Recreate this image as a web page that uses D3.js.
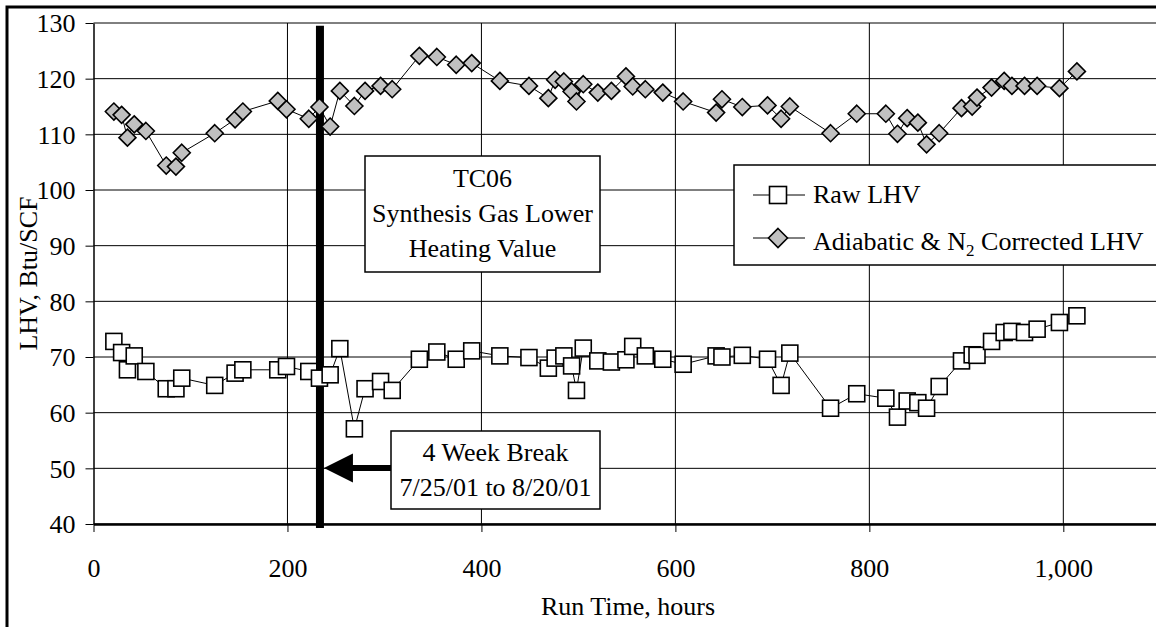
<!DOCTYPE html>
<html>
<head>
<meta charset="utf-8">
<script src="https://cdn.jsdelivr.net/npm/d3@7/dist/d3.min.js"></script>
<style>
  html, body { margin: 0; padding: 0; background: #fff; }
  svg { display: block; }
  text { font-family: "Liberation Serif", "Times New Roman", serif; fill: #000; }
</style>
</head>
<body>
<svg id="chart" width="1156" height="627"></svg>
<script>
// ---- data ----
const hours = [21,29,35,42,54,75,85,91,125,146,154,190,199,222,233,244,254,269,280,296,308,336,354,374,390,419,449,469,476,485,493,498,505,520,534,549,556,569,587,608,642,648,669,695,709,718,760,787,817,829,839,850,859,872,895,906,911,926,939,947,960,973,996,1014];
const rawLHV = [72.8,70.8,67.7,70.2,67.4,64.3,64.3,66.2,64.9,67.1,67.7,67.7,68.3,67.4,66.2,66.8,71.5,57.1,64.3,65.6,64.0,69.6,70.9,69.6,71.1,70.2,69.9,68.0,69.8,70.2,68.4,64.0,71.6,69.3,69.1,69.5,71.9,70.2,69.6,68.7,70.2,70.0,70.3,69.6,64.9,70.7,60.8,63.4,62.6,59.2,62.1,61.8,60.8,64.7,69.3,70.4,70.3,72.8,74.4,74.6,74.4,75.0,76.2,77.4];
const correctedLHV = [114.1,113.5,109.4,111.8,110.6,104.4,104.2,106.7,110.2,112.7,114.1,116.0,114.5,112.8,114.9,111.4,117.8,115.1,117.8,118.7,118.1,124.1,123.9,122.5,122.8,119.6,118.7,116.5,119.8,119.5,117.7,115.9,119.0,117.5,117.8,120.4,118.6,118.1,117.5,115.9,113.9,116.3,114.9,115.2,112.8,115.0,110.2,113.7,113.7,110.1,112.9,112.1,108.2,110.2,114.7,115.0,116.6,118.4,119.6,118.7,118.7,118.7,118.3,121.3];
const xTicks = [0,200,400,600,800,1000];
const yTicks = [40,50,60,70,80,90,100,110,120,130];
const seriesNames = ["Raw LHV", "Adiabatic & N", "2", " Corrected LHV"];
const titleLines = ["TC06", "Synthesis Gas Lower", "Heating Value"];
const breakLines = ["4 Week Break", "7/25/01 to 8/20/01"];
const breakHour = 233.5;
const xTitle = "Run Time, hours";
const yTitle = "LHV, Btu/SCF";

// ---- layout ----
const svg = d3.select("#chart");
const FONT = 26;
const x = d3.scaleLinear().domain([0, 1100]).range([93.5, 1160.3]);
const y = d3.scaleLinear().domain([40, 130]).range([524, 23]);
const x0 = x.range()[0], x1 = x.range()[1];
const yTop = y(130), yBot = y(40);

// outer frame
svg.append("rect").attr("x", 7).attr("y", 7).attr("width", 1170).attr("height", 640)
  .attr("fill", "#fff").attr("stroke", "#000").attr("stroke-width", 3);

// gridlines
const grid = svg.append("g");
grid.selectAll("line.h").data(yTicks).join("line")
  .attr("x1", x0).attr("x2", x1).attr("y1", d => y(d)).attr("y2", d => y(d))
  .attr("stroke", "#000").attr("stroke-width", 1);
grid.selectAll("line.v").data(xTicks.filter(d => d > 0)).join("line")
  .attr("x1", d => x(d)).attr("x2", d => x(d)).attr("y1", yTop).attr("y2", yBot)
  .attr("stroke", "#000").attr("stroke-width", 1);

// axes
const yAxis = svg.append("g").attr("transform", `translate(${x0},0)`)
  .call(d3.axisLeft(y).tickValues(yTicks).tickSize(8).tickSizeOuter(0).tickPadding(10));
yAxis.select(".domain").attr("stroke-width", 1.5);
yAxis.selectAll(".tick line").attr("stroke-width", 1);
yAxis.selectAll("text").attr("font-size", FONT).attr("font-family", "Liberation Serif").attr("dy", "0.34em");

const xAxis = svg.append("g").attr("transform", `translate(0,${yBot})`)
  .call(d3.axisBottom(x).tickValues(xTicks).tickSize(8).tickSizeOuter(0).tickFormat(d3.format(",")));
xAxis.select(".domain").attr("stroke-width", 2.5);
xAxis.selectAll(".tick line").attr("stroke-width", 1);
xAxis.selectAll("text").attr("font-size", FONT).attr("font-family", "Liberation Serif")
  .attr("y", 53).attr("dy", 0);

// axis titles
svg.append("text").attr("x", 628).attr("y", 615).attr("text-anchor", "middle")
  .attr("font-size", FONT).text(xTitle);
svg.append("text").attr("transform", `translate(37,${(yTop + yBot) / 2}) rotate(-90)`)
  .attr("text-anchor", "middle").attr("font-size", FONT).text(yTitle);

// break line
svg.append("line").attr("x1", x(breakHour)).attr("x2", x(breakHour))
  .attr("y1", y(129.5)).attr("y2", y(39.3)).attr("stroke", "#000").attr("stroke-width", 8);

// series
const rawPts = hours.map((h, i) => [h, rawLHV[i]]);
const corPts = hours.map((h, i) => [h, correctedLHV[i]]);
const line = d3.line().x(d => x(d[0])).y(d => y(d[1]));

svg.append("path").attr("d", line(corPts)).attr("fill", "none").attr("stroke", "#000").attr("stroke-width", 1);
svg.append("path").attr("d", line(rawPts)).attr("fill", "none").attr("stroke", "#000").attr("stroke-width", 1);

const D = 8.5; // diamond half diagonal
svg.append("g").selectAll("path").data(corPts).join("path")
  .attr("d", d => `M${x(d[0])},${y(d[1]) - D}L${x(d[0]) + D},${y(d[1])}L${x(d[0])},${y(d[1]) + D}L${x(d[0]) - D},${y(d[1])}Z`)
  .attr("fill", "#c0c0c0").attr("stroke", "#000").attr("stroke-width", 1.6);

const S = 16; // square side
svg.append("g").selectAll("rect").data(rawPts).join("rect")
  .attr("x", d => x(d[0]) - S / 2).attr("y", d => y(d[1]) - S / 2)
  .attr("width", S).attr("height", S)
  .attr("fill", "#fff").attr("stroke", "#000").attr("stroke-width", 1.6);

// title box
svg.append("rect").attr("x", 365).attr("y", 156).attr("width", 235).attr("height", 116)
  .attr("fill", "#fff").attr("stroke", "#000").attr("stroke-width", 1.5);
svg.append("g").selectAll("text").data(titleLines).join("text")
  .attr("x", 482.5).attr("y", (d, i) => 187 + i * 35).attr("text-anchor", "middle")
  .attr("font-size", FONT).text(d => d);

// break box + arrow
svg.append("rect").attr("x", 391).attr("y", 431).attr("width", 209).attr("height", 78)
  .attr("fill", "#fff").attr("stroke", "#000").attr("stroke-width", 1.5);
svg.append("g").selectAll("text").data(breakLines).join("text")
  .attr("x", 495.5).attr("y", (d, i) => 461 + i * 35).attr("text-anchor", "middle")
  .attr("font-size", FONT).text(d => d);
const ay = y(50) - 0.3;
const tipX = x(breakHour) + 4;
svg.append("line").attr("x1", 391).attr("x2", tipX + 26).attr("y1", ay).attr("y2", ay)
  .attr("stroke", "#000").attr("stroke-width", 6);
svg.append("path").attr("d", `M${tipX},${ay}L${tipX + 29},${ay - 14.5}L${tipX + 29},${ay + 14.5}Z`)
  .attr("fill", "#000");

// legend
svg.append("rect").attr("x", 734).attr("y", 165).attr("width", 440).attr("height", 100)
  .attr("fill", "#fff").attr("stroke", "#000").attr("stroke-width", 1.5);
const lg = svg.append("g");
lg.append("line").attr("x1", 753).attr("x2", 805).attr("y1", 195).attr("y2", 195).attr("stroke", "#000").attr("stroke-width", 1);
lg.append("rect").attr("x", 778 - 8.5).attr("y", 195 - 8.5).attr("width", 17).attr("height", 17)
  .attr("fill", "#fff").attr("stroke", "#000").attr("stroke-width", 1.6);
lg.append("text").attr("x", 813).attr("y", 203).attr("font-size", FONT).text(seriesNames[0]);
lg.append("line").attr("x1", 753).attr("x2", 805).attr("y1", 238).attr("y2", 238).attr("stroke", "#000").attr("stroke-width", 1);
lg.append("path").attr("d", `M778,${238 - 9.5}L${778 + 9.5},238L778,${238 + 9.5}L${778 - 9.5},238Z`)
  .attr("fill", "#c0c0c0").attr("stroke", "#000").attr("stroke-width", 1.6);
const t2 = lg.append("text").attr("x", 813).attr("y", 250).attr("font-size", FONT);
t2.append("tspan").text(seriesNames[1]);
t2.append("tspan").attr("font-size", 17).attr("dy", 6).text(seriesNames[2]);
t2.append("tspan").attr("dy", -6).text(seriesNames[3]);
</script>
</body>
</html>
